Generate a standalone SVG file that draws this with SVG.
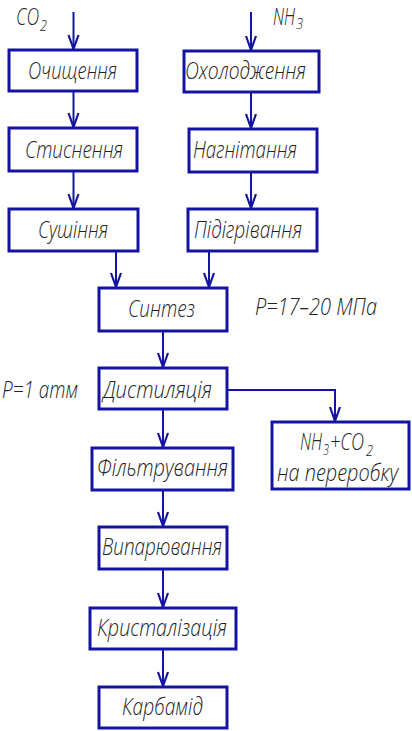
<svg xmlns="http://www.w3.org/2000/svg" width="412" height="731" viewBox="0 0 412 731">
<style>
.bg{fill:#ffffff}
.box{fill:#ffffff;stroke:#1414a0;stroke-width:3}
.con{fill:none;stroke:#1414a0;stroke-width:2;marker-end:url(#arr)}
.t{font-family:"Open Sans","Liberation Sans",sans-serif;font-weight:300;font-style:italic;font-size:24px;fill:#222222}
.sub{font-size:14px}
</style>
<defs>
<marker id="arr" markerUnits="userSpaceOnUse" viewBox="-15 -7 17 14" markerWidth="17" markerHeight="14" refX="0" refY="0" orient="auto">
<path d="M-14,-5 L0,0 L-14,5" fill="none" stroke="#1414a0" stroke-width="2.2"/>
</marker>
</defs>
<rect class="bg" x="0" y="0" width="412" height="731"/>
<g id="connectors">
<path class="con" d="M73.5,12 V49"/>
<path class="con" d="M251,12 V50"/>
<path class="con" d="M73.5,92 V127"/>
<path class="con" d="M251,93 V128"/>
<path class="con" d="M73.5,171 V208"/>
<path class="con" d="M251,172 V208"/>
<path class="con" d="M116,251 V287"/>
<path class="con" d="M209,251 V287"/>
<path class="con" d="M163,331 V367"/>
<path class="con" d="M227,390 H335 V421"/>
<path class="con" d="M163,410 V447"/>
<path class="con" d="M163,490 V526"/>
<path class="con" d="M163,569 V607"/>
<path class="con" d="M163,649 V686"/>
</g>
<g id="labels">
<text class="t" x="16" y="25" textLength="23" lengthAdjust="spacingAndGlyphs">CO</text>
<text class="t sub" x="40" y="31" textLength="7" lengthAdjust="spacingAndGlyphs">2</text>
<text class="t" x="273" y="25" textLength="22" lengthAdjust="spacingAndGlyphs">NH</text>
<text class="t sub" x="296" y="29" textLength="7" lengthAdjust="spacingAndGlyphs">3</text>
<text class="t" x="255" y="315" textLength="122" lengthAdjust="spacingAndGlyphs">P=17–20 МПа</text>
<text class="t" x="2" y="398" textLength="76" lengthAdjust="spacingAndGlyphs">P=1 атм</text>
</g>
<g id="n1"><rect class="box" x="9" y="50" width="128" height="41"/><text class="t" x="28" y="79" textLength="89" lengthAdjust="spacingAndGlyphs">Очищення</text></g>
<g id="n2"><rect class="box" x="184" y="51" width="135" height="41"/><text class="t" x="185" y="79" textLength="121" lengthAdjust="spacingAndGlyphs">Охолодження</text></g>
<g id="n3"><rect class="box" x="9" y="128" width="128" height="43"/><text class="t" x="25" y="158" textLength="98" lengthAdjust="spacingAndGlyphs">Стиснення</text></g>
<g id="n4"><rect class="box" x="189" y="129" width="128" height="43"/><text class="t" x="193" y="158" textLength="104" lengthAdjust="spacingAndGlyphs">Нагнітання</text></g>
<g id="n5"><rect class="box" x="9" y="209" width="129" height="42"/><text class="t" x="38" y="238" textLength="70" lengthAdjust="spacingAndGlyphs">Сушіння</text></g>
<g id="n6"><rect class="box" x="188" y="209" width="129" height="42"/><text class="t" x="194" y="238" textLength="108" lengthAdjust="spacingAndGlyphs">Підігрівання</text></g>
<g id="n7"><rect class="box" x="99" y="288" width="128" height="43"/><text class="t" x="128" y="317" textLength="67" lengthAdjust="spacingAndGlyphs">Синтез</text></g>
<g id="n8"><rect class="box" x="99" y="368" width="128" height="41"/><text class="t" x="103" y="398" textLength="109" lengthAdjust="spacingAndGlyphs">Дистиляція</text></g>
<g id="n9"><rect class="box" x="272" y="422" width="137" height="67"/>
<text class="t" x="300" y="450" textLength="22" lengthAdjust="spacingAndGlyphs">NH</text>
<text class="t sub" x="323" y="455" textLength="6" lengthAdjust="spacingAndGlyphs">3</text>
<text class="t" x="330" y="450" textLength="34" lengthAdjust="spacingAndGlyphs">+CO</text>
<text class="t sub" x="366" y="456" textLength="7" lengthAdjust="spacingAndGlyphs">2</text>
<text class="t" x="277" y="481" textLength="121" lengthAdjust="spacingAndGlyphs">на переробку</text></g>
<g id="n10"><rect class="box" x="92" y="448" width="141" height="42"/><text class="t" x="97" y="476" textLength="131" lengthAdjust="spacingAndGlyphs">Фільтрування</text></g>
<g id="n11"><rect class="box" x="99" y="527" width="128" height="42"/><text class="t" x="102" y="555" textLength="120" lengthAdjust="spacingAndGlyphs">Випарювання</text></g>
<g id="n12"><rect class="box" x="90" y="608" width="146" height="41"/><text class="t" x="97" y="636" textLength="130" lengthAdjust="spacingAndGlyphs">Кристалізація</text></g>
<g id="n13"><rect class="box" x="99" y="687" width="128" height="41"/><text class="t" x="122" y="715" textLength="81" lengthAdjust="spacingAndGlyphs">Карбамід</text></g>
</svg>
